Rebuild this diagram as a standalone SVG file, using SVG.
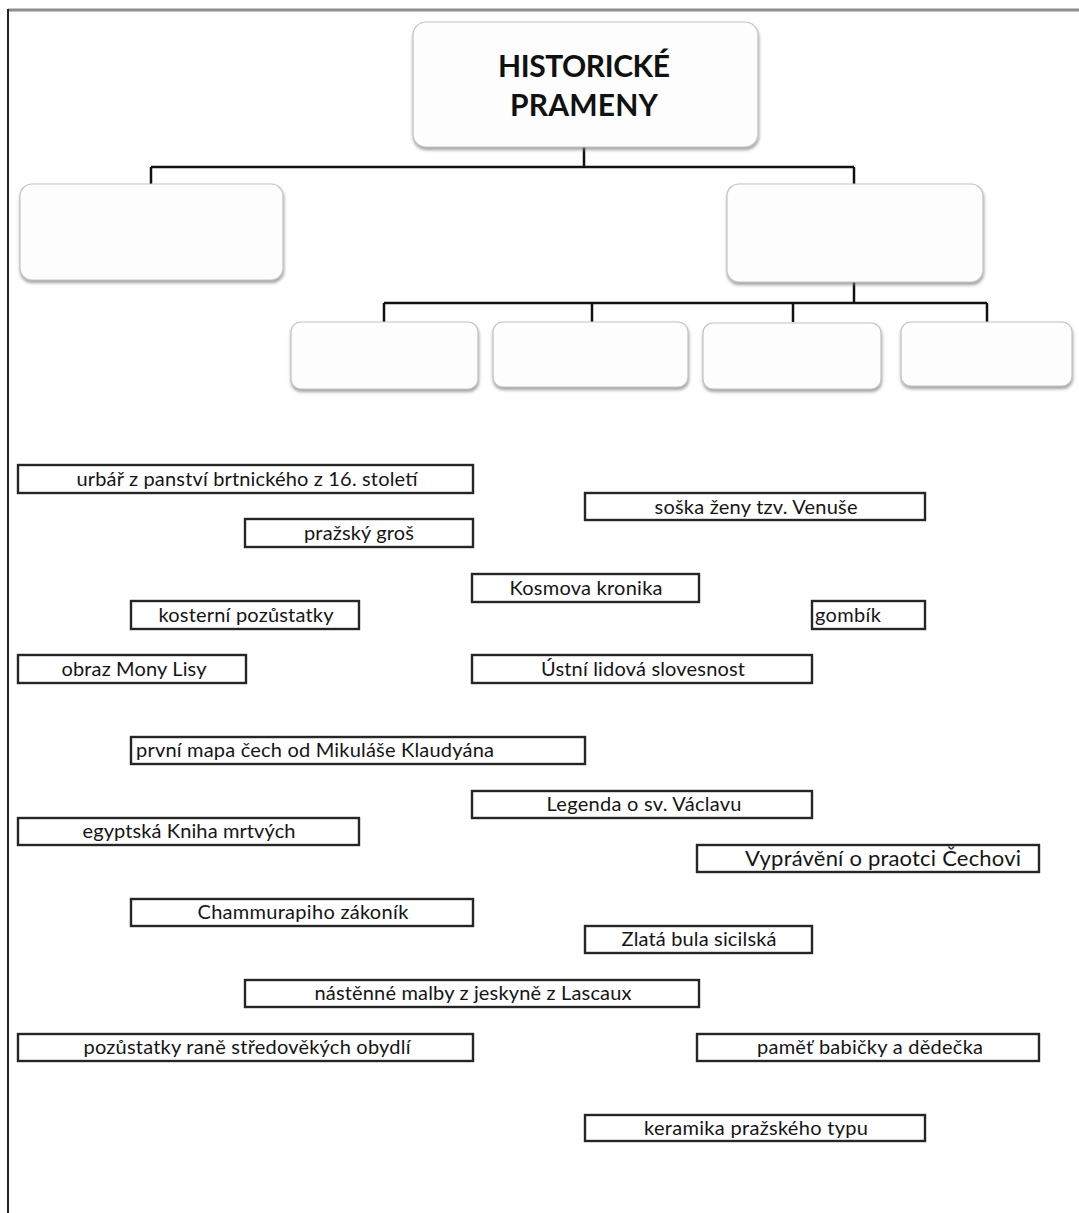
<svg xmlns="http://www.w3.org/2000/svg" width="1079" height="1213" viewBox="0 0 1079 1213">
<style>
.rbox{fill:#fdfdfe;stroke:#c4c4c4;stroke-width:1.2;filter:url(#sh)}
.lbl rect{fill:#fff;stroke:#262626;stroke-width:2.4}
.lbl text{font-family:Lato,"Open Sans","Liberation Sans",sans-serif;font-size:20px;fill:#151515}
.mid{text-anchor:middle}
.title{font-family:Lato,"Open Sans","Liberation Sans",sans-serif;font-weight:bold;font-size:30px;fill:#111;text-anchor:middle}
#connectors path{fill:none;stroke:#111;stroke-width:2.5}
</style>
<defs>
<filter id="sh" x="-10%" y="-10%" width="120%" height="130%">
<feDropShadow dx="0.5" dy="2.5" stdDeviation="1.5" flood-color="#777" flood-opacity="0.7"/>
</filter>
</defs>
<rect x="0" y="0" width="1079" height="1213" fill="#fff"/>
<g id="frame">
<line x1="8" y1="10" x2="1079" y2="10" stroke="#8e8e8e" stroke-width="3"/>
<line x1="8" y1="9" x2="8" y2="1213" stroke="#222" stroke-width="2"/>
</g>
<g id="connectors">
<path d="M584,147 V167 M151,167 H854 M151,167 V184 M854,167 V184"/>
<path d="M854,282 V303 M384,303 H987 M384,303 V322 M592,303 V322 M793,303 V322 M987,303 V322"/>
</g>
<g id="n-root">
<rect class="rbox" x="413" y="22" width="345" height="125" rx="13"/>
<text class="title" x="584" y="77" textLength="172">HISTORICKÉ</text>
<text class="title" x="584" y="116" textLength="148">PRAMENY</text>
</g>
<g id="n-left"><rect class="rbox" x="20" y="184" width="263" height="96" rx="12"/></g>
<g id="n-right"><rect class="rbox" x="727" y="184" width="256" height="98" rx="12"/></g>
<g id="n-s1"><rect class="rbox" x="291" y="322" width="187" height="67" rx="10"/></g>
<g id="n-s2"><rect class="rbox" x="493" y="322" width="195" height="65" rx="10"/></g>
<g id="n-s3"><rect class="rbox" x="703" y="323" width="178" height="66" rx="10"/></g>
<g id="n-s4"><rect class="rbox" x="901" y="322" width="171" height="64" rx="10"/></g>

<g id="l1" class="lbl"><rect x="18" y="465" width="455" height="28"/><text class="mid" x="247" y="486" textLength="341">urbář z panství brtnického z 16. století</text></g>
<g id="l2" class="lbl"><rect x="585" y="493" width="340" height="27"/><text class="mid" x="756" y="514" textLength="203">soška ženy tzv. Venuše</text></g>
<g id="l3" class="lbl"><rect x="245" y="519" width="228" height="28"/><text class="mid" x="359" y="540" textLength="110">pražský groš</text></g>
<g id="l4" class="lbl"><rect x="472" y="574" width="227" height="28"/><text class="mid" x="586" y="595" textLength="153">Kosmova kronika</text></g>
<g id="l5" class="lbl"><rect x="131" y="601" width="228" height="28"/><text class="mid" x="246" y="622" textLength="175">kosterní pozůstatky</text></g>
<g id="l6" class="lbl"><rect x="812" y="601" width="113" height="28"/><text x="815" y="622" textLength="66">gombík</text></g>
<g id="l7" class="lbl"><rect x="18" y="655" width="228" height="28"/><text class="mid" x="134" y="676" textLength="145">obraz Mony Lisy</text></g>
<g id="l8" class="lbl"><rect x="472" y="655" width="340" height="28"/><text class="mid" x="643" y="676" textLength="204">Ústní lidová slovesnost</text></g>
<g id="l9" class="lbl"><rect x="131" y="737" width="454" height="27"/><text x="136" y="757" textLength="358">první mapa čech od Mikuláše Klaudyána</text></g>
<g id="l10" class="lbl"><rect x="472" y="791" width="340" height="27"/><text class="mid" x="644" y="811" textLength="195">Legenda o sv. Václavu</text></g>
<g id="l11" class="lbl"><rect x="18" y="818" width="341" height="27"/><text class="mid" x="189" y="838" textLength="213">egyptská Kniha mrtvých</text></g>
<g id="l12" class="lbl"><rect x="697" y="845" width="342" height="27"/><text x="745" y="866" font-size="22" style="font-size:22px" textLength="276">Vyprávění o praotci Čechovi</text></g>
<g id="l13" class="lbl"><rect x="131" y="899" width="342" height="27"/><text class="mid" x="303" y="919" textLength="211">Chammurapiho zákoník</text></g>
<g id="l14" class="lbl"><rect x="585" y="926" width="227" height="27"/><text class="mid" x="699" y="946" textLength="155">Zlatá bula sicilská</text></g>
<g id="l15" class="lbl"><rect x="245" y="980" width="454" height="27"/><text class="mid" x="473" y="1000" textLength="317">nástěnné malby z jeskyně z Lascaux</text></g>
<g id="l16" class="lbl"><rect x="18" y="1034" width="455" height="27"/><text class="mid" x="247" y="1054" textLength="327">pozůstatky raně středověkých obydlí</text></g>
<g id="l17" class="lbl"><rect x="697" y="1034" width="342" height="27"/><text class="mid" x="870" y="1054" textLength="226">paměť babičky a dědečka</text></g>
<g id="l18" class="lbl"><rect x="585" y="1115" width="340" height="26"/><text class="mid" x="756" y="1135" textLength="224">keramika pražského typu</text></g>
</svg>
